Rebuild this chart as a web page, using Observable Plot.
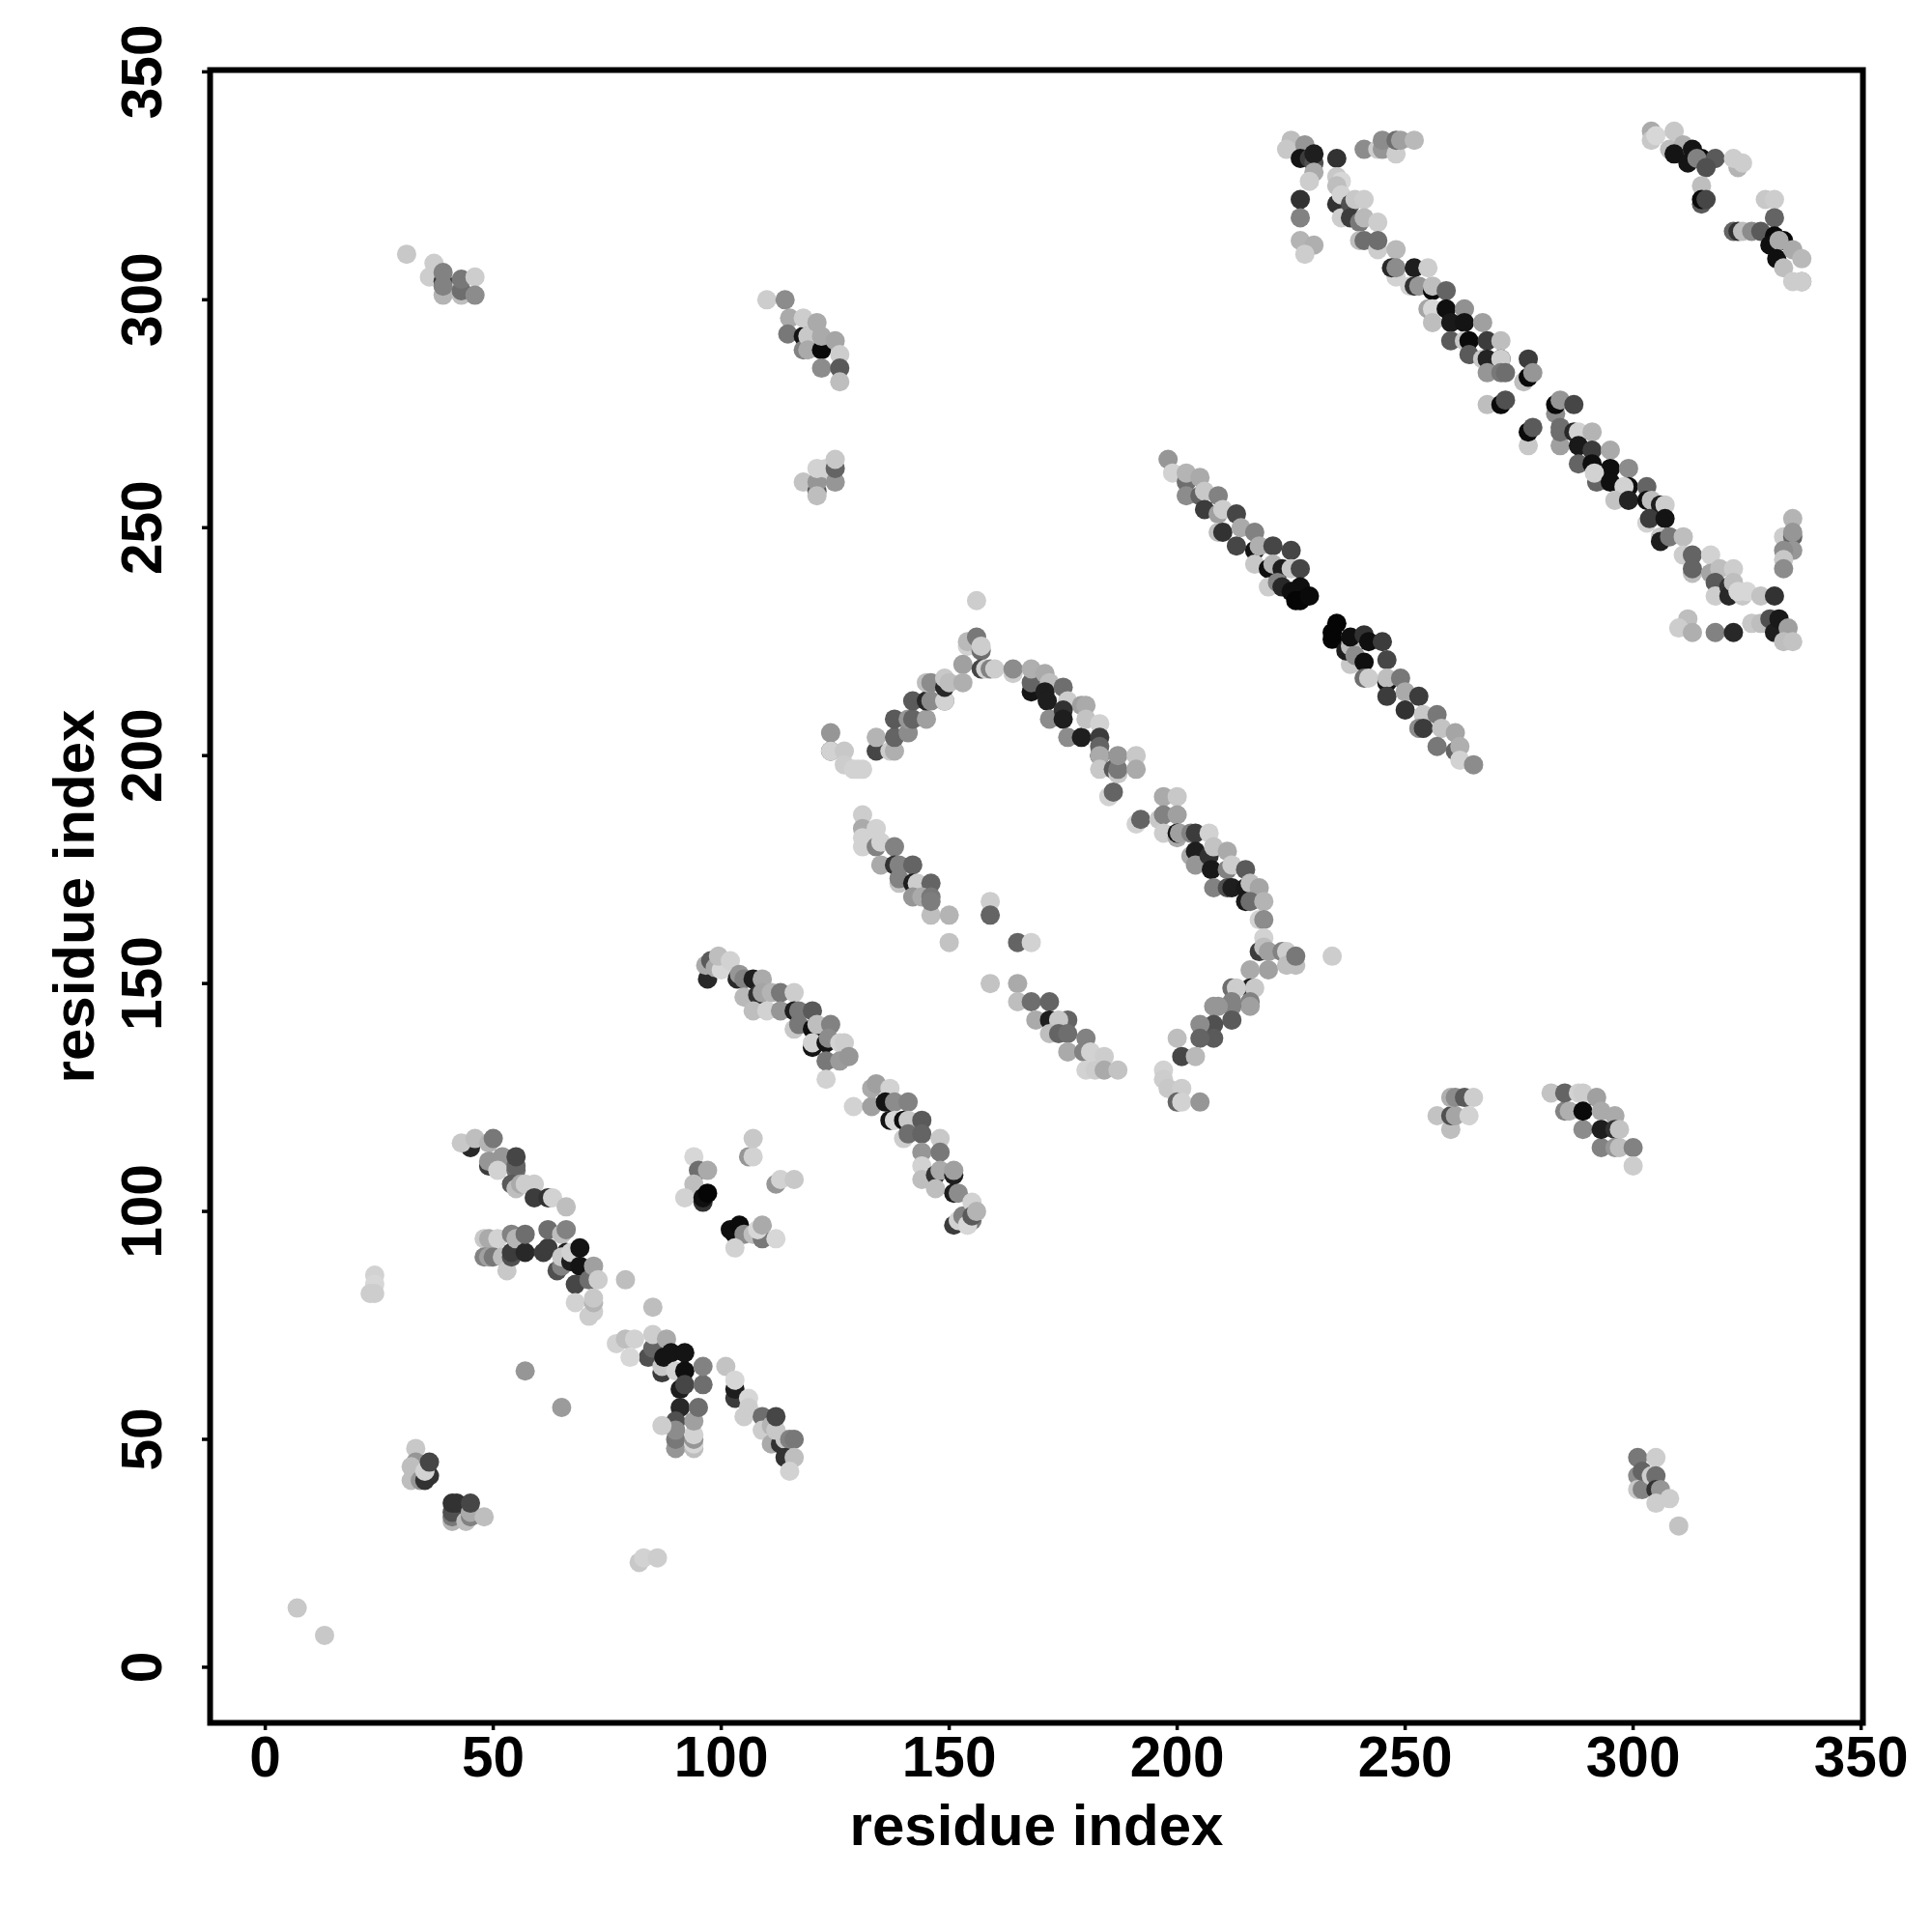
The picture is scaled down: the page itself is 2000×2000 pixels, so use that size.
<!DOCTYPE html>
<html><head><meta charset="utf-8">
<script src="https://cdn.jsdelivr.net/npm/d3@7"></script>
<script src="https://cdn.jsdelivr.net/npm/@observablehq/plot@0.6"></script>
<style>html,body{margin:0;padding:0;background:#fff}</style></head>
<body><div id="chart"></div>
<script>
// [residue x, residue y, grey level]
const lowerLeft = [[7,13,200],[13,7,200],[24,86,210],[24,84,215],[23,82,205],[24,82,205],[57,65,150],[65,57,155],[82,23,200],[83,24,210],[86,24,205],
[33,48,200],[33,45,150],[32,44,190],[32,41,190],[34,41,150],[35,41,50],[36,42,50],[35,43,210],[36,45,70],
[41,32,180],[41,33,120],[41,34,80],[41,36,50],[42,36,50],[44,32,190],[45,33,130],[45,34,170],[45,36,70],[48,33,190]];
const betaA = [[45,114,40],[43,115,200],[46,116,190],[49,115,180],[50,116,120],[49,110,60],[49,111,150],[52,112,150],[51,109,210],[55,109,110],[55,110,100],[55,112,70],
[54,106,90],[55,105,190],[56,106,170],[57,106,205],[59,106,205],[59,103,60],[62,103,50],[63,103,210],[66,101,190],
[48,94,200],[49,94,170],[51,94,210],[48,90,130],[49,90,160],[50,90,120],[52,90,190],[53,87,200],[54,90,80],[54,91,60],[54,95,130],[55,94,180],[57,91,40],[57,95,110],
[61,91,60],[62,92,60],[62,96,110],[65,95,190],[66,96,130],[64,87,80],[65,88,130],[66,91,30],[65,90,200],[67,89,30],[67,91,210],[69,88,20],[69,92,20],
[68,84,70],[71,85,110],[72,88,160],[73,85,205],[79,85,190],[85,79,190],[68,80,210],[71,77,205],[72,78,205],[72,80,180],[72,81,200]];
const betaB = [[77,71,210],[79,72,190],[81,72,210],[84,68,80],[85,70,100],[85,73,205],[88,72,170],[80,68,215],[87,64.6,60],[87,66,200],[87.4,68,20],[89,69,20],[90,65,210],[92,69,20],[92,65,15],
[91,61,30],[92,62,70],[96,62,110],[96,66,130],[101,66,195],[103,59,60],[103,61,30],[103,63,215],
[91,57,40],[90,54,80],[90,48,150],[90,50,120],[90,52,140],[87,53,205],[94,48,190],[94,49,215],[94,50,150],[94,51,210],[94,54,160],[95,57,110],
[106,59,215],[106,57,205],[105,55,205],[109,55,110],[109,52,205],[111,53,180],[111,49,170],[113,49,50],[112,52,200],[112,55,70],[114,50,200],[115,50,130],[116,50,120],[114,46,50],[116,46,190],[115,43,210]];
const cluster100 = [[94,112,215],[95,109,110],[97,109,170],[94,106,190],[92,103,210],[96,102,50],[96,103,15],[97,104,5],
[106,112,150],[107,112,210],[107,116,200],[112,106,150],[113,107,210],[116,107,200],
[102,96,15],[103,95,15],[104,97,10],[105,95,140],[103,92,210],[107,95,190],[109,94,120],[108,96,215],[109,97,170],[112,94,215]];
const strandC = [[97,151,40],[96.6,154,170],[97.7,155,90],[98.7,153.5,170],[100,153,215],[99.4,156,190],[102,155,210],
[103.5,151,40],[104,152,150],[105,151,130],[107,151,30],[109,151,170],[105,147,185],[108,147.5,50],[109,148,165],[111,148,180],[113,148,120],[116,148,205],
[107,144,190],[110,144,210],[113,144,150],[116,144,30],[117,144,120],[120,144,90],[116,140,200],[117,141,120],[120,140,15],[120,136,20],[120,137,210],[121,141,190],[124,141,130],
[123,137,20],[123.5,138,140],[126,137,210],[127,137,205],[123,133,120],[126,133,155],[128,134,150],[123,129,210],
[129,123,210],[133,123,160],[133,127,170],[134,128,160],[137,127,210],[136,124,20],[138,124,140],[141,124,130],[137,120,20],[138,120,215],[140,120,15],[141,120,200],[144,120,90],
[140,116,205],[141,117,110],[144,117,100],[148,116,200],[144,113,150],[148,113,120],[144,110,210],[144,107,190],[147,108,50],[148,109,170],[147,105,190],[151,108,30],[151,109,160],[151,104,30],[152,104,140],
[151,97,60],[152,98,210],[153,99,130],[154,97,190],[155,98,120],[154,97,215],[155,102,210],[155,99,90],[156,100,180]];
const arcD = [[156,234,205],[154,224,210],[154,225,185],[156,226,120],[157,223,110],[157,224,205],[153,220,160],[157,219,70],[158,219,210],[159,219,130],[160,219,205],
[124,205,150],[124,201,80],[124,201,210],[127,201,200],[127,198,205],[129,197,210],[130,197,210],[131,197,210],
[134,201,70],[134,204,180],[137,201,205],[138,201,175],[138,204,100],[138,208,90],[141,205,140],[141,208,150],[142,208,100],[145,208,160],[142,212,90],[145,212,40],[146,212,140],[149,212,110],[149,212,210],
[145,216,190],[146,216,140],[149,215,40],[149,217,200],[150,216,190],[153,216,175],
[164,218,205],[164,219,140],[168,214,20],[168,216,100],[168,219,175],[171,218,170],[172,216,190],[171,214,30],[171.5,212,30],[175,215,110],[176,212,205],[179,211,160],[180,211,170],
[172,208,140],[175,210,50],[175,208,30],[176,204,140],[179,204,30],[180,208,195],[183,207,210],[183,204,60],[183,200,25],[183,202,100],[183,200,170],[183,197,200],
[186,197,90],[187,196,200],[187,197,120],[187,200,150],[191,200,200],[191,197,170],[185,191,210],[186,192,100]];
const arcE = [[191,185,210],[192,186,100],[197,191,170],[200,191,200],[196,186,200],[197,187,130],[200,187,160],[197,183,205],[200,182,170],[200,183,20],[200.5,183,160],
[203,183,130],[204,183,60],[207,183,210],[203,178,170],[204,179,30],[204,176,150],[207,178,50],[208,180,195],[207.5,175,25],[211,179,170],[211,175,130],[212,176,205],[215,175,90],
[208,171,130],[211,171,80],[212,171,30],[215,171,25],[216,172,190],[218,171,165],[215,168,25],[216,168,110],[219,168,180],[218,164,210],[219,164,140],
[219,160,210],[218,157,60],[219,158,190],[220,157,160],[223,157,130],[224,157,205],[226,154,190],[224,154,190],[226,156,120],[234,156,205],[220,153,160],[216,153,170],
[216,149,30],[217,149,200],[216,146,130],[212,149,110],[213,149,205],[212,146,130],[216,145,160],[212,145,130],[212,142,90],[209,145,150],[208,145,150],[208,141,80],[205,141,140],[208,138,90],[205,138,100],
[200,138,190],[201,134,70],[204,134,185],[197,131,210],[197,129,205],[198,127,200],[201,127,205],[200,124,100],[201,124,210],[205,124,150]];
const strandF = [[131,187,205],[131,184,170],[131,182,210],[131,180,210],[134,184,210],[134,180,130],[135,181,210],[138,180,130],[135,176,170],[138,176,50],[139,176,130],[142,176,100],[139,172,195],[139,173,130],
[142,172,30],[143,172,205],[146,172,100],[142,169,150],[144,169,170],[146,165,190],[146,169,120],[146,168,125],[150,165,180],[150,159,195],
[159,168,205],[159,165,100],[165,159,100],[168,159,210],[159,150,195],[165,150,170],[165,146,190],[168,146,110],[172,146,100],[169,142,170],[176,142,100],[172,142,30],[174,142,200],
[172,139,190],[174,139,100],[176,139,110],[176,135,170],[180,138,130],[179.5,135,130],[181,135,210],[180,131,210],[182,131,205],[184,134,205],[184,131,170],[187,131,195]];
const helixG = [[198,265,150],[199,262,210],[202,260,110],[202,262,180],[205,261,170],[202,257,140],[205,257,100],[206,258,200],[209,257,130],[206,254,60],[209,253,160],[210,254,205],[213,253,70],
[209,249,190],[210,249,50],[214,250,170],[217,249,130],[213,246,70],[217,245,20],[218,246,175],[217,242,200],[221,246,70],[225,245,70],[220,241,15],[221,242,180],[223,241,30],[225,241,200],[227,241,70],
[220,237,205],[222,238,130],[223,237,40],[227,237,15],[225,236,15],[226,234,5],[227,234,5],[229,235,10],
[234,225.5,5],[234,227,5],[235,229,5],[238,220,200],[237,223,30],[238,224,190],[238,226,15],[239,222,140],[241,226.5,50],[241,220.5,15],[242,225,15],[245,225,60],[246,221,70],
[241,217,110],[242,217,205],[246,216,20],[246,217,190],[249,217,120],[246,213,60],[250,214,170],[253,213,60],[250,210,50],[254,209,200],[257,209,120],[253,206,140],[254,206,60],[258,206,195],[261,205,165],[257,202,120],[261,201,100],[262,202,175],[262,199,210],[265,198,140]];
const helixH = [[225,335,190],[224,333,200],[228,334,150],[227,331,20],[229,331,60],[230,330,80],[230,332,30],[230,328,170],[229,326,205],[235,331,50],[227,322,50],[227,318,130],[227,313,180],[230,312,175],[228,310,205],
[241,333,140],[244,333,205],[245,333,150],[245,335,140],[248,332,205],[248,335,110],[249,335,160],[252,335,185],
[235,327,200],[236,326,215],[235,325,190],[235,321,50],[236,323,210],[236,318,205],[238,321,80],[239,322,200],[241,322,205],[238,318,60],[240,317,120],[241,318,185],[244,317,205],[240,313,190],[241,313,110],[244,311,205],[244,313,110],
[248,311,185],[248,305,210],[247,307,40],[248,307,140],[252,307,30],[255,307,205],[251,303,210],[252,303,50],[253,303,150],[256,302,10],[256,303,190],[259,302,100],[255,298,165],[256,298,215],[259,298,15],[263,298,145],
[256,295,190],[260,295,25],[263,295,20],[267,295,160],[260,291,90],[263,291,200],[264,291,10],[268,291,60],[271,291,190],[264,288,90],[267,287,200],[268,287,35],[271,287,20],[271,287,205],
[268,284,150],[271,284,120],[272,284,110],[277,287,60],[276,282,190],[277,283,10],[278,284,150],[268,277,190],[271,277,10],[272,278,80],[277,268,200],[277,271,10],[278,272,90],
[283,275,140],[283,277,10],[284,278,150],[287,277,70]];
const helixI = [[284,268,160],[284,271,110],[284,272,110],[287,271,40],[288,271,210],[291,271,180],[288,268,25],[291,267,60],[295,267,170],[288,264,100],[291,264,15],[295,263,15],[299,263,140],[292,260,100],[291.5,262,210],[295,260,15],[299,259,15],[298,259,210],[303,259,100],
[296,256,195],[299,256,35],[303,256,15],[304,256,190],[306,255,30],[307,255,205],[303,251,210],[303.6,252,60],[307,252,20],[306,248,200],[306,247,30],[308,248,120],[311,248,190],
[311,244,205],[313,244,100],[313,240,190],[313,241,100],[317,244,210],[317,240,165],[319,241,190],[318,238,90],[318,235,205],[321,237,50],[321,235,40],[322,241,205],[322,238,190],[324,235,200],[323,236,215],[325,236,215],[328,235,195],[331,235,50],
[335,252,180],[333,248,205],[335,248,100],[335,249,150],[335,245,150],[333,245,140],[333,243,200],[333,241,140],
[312,230,190],[310,228,205],[313,227,175],[318,227,130],[322,227,40],[326,229,200],[328,229,190],[330,230,80],[331,227,30],[332,230,25],[334,228,160],[333,225,190],[335,225,195]];
const cornerJ = [[304,337,170],[304,335,200],[305,336,215],[309,337,200],[308,333,190],[311,334,175],[309,332,20],[313,333,20],[312,330,20],[315,331,10],[314,331,130],[318,331,90],[316,329,80],[315,325,190],[315,321,90],[315,322,10],[316,322,70],[323,329,180],[322,331,205],[324,330,205],
[329,322,200],[331,322,205],[331,318,100],[322,315,100],[323,315,50],[324,315,190],[326,315,140],[328,315,90],[331,314,10],[330,312,15],[333,313,10],[332,313,170],[331.5,309,15],[333,307,190],[335,311,170],[337,309,185],[337,304,140],[335,304,205],[337,304,205]];
const offDiagonal = [[31,310,200],[37,308,205],[36,305,205],[39,304,60],[39,301,180],[39,306,130],[39,303,130],[43,301,190],[43,302,110],[43,304.5,120],[46,305,205],[46,301,140],
[110,300,205],[114,300,140],[115,296,170],[114.6,292.5,120],[118,292,20],[118,296,205],[118,289,130],[119,292,200],[119,289,170],[121,295,170],[122,289,10],[122,292,170],[125,291,165],[126,288,205],[122,285,140],[126,285,90],[126,282,190],
[118,260,195],[121,258,90],[121,260,150],[121,257,190],[121,263,210],[123,263,210],[125,260,150],[125,263,100],[125,265,200],
[257,121,195],[260,118,190],[260,121,80],[261,121,165],[260,125,175],[261,125,140],[264,121,210],[263,125,90],[265,125,205],
[282,126,195],[285,122,130],[285,126,100],[286,122,175],[288,126,210],[289,126,205],[292,125,160],[289,118,140],[289,122,10],[293,122,170],[293,114,130],[293,118,30],[296,121,170],[296,118,50],[297,118,195],[296,114,150],[297,114,190],[300,114,130],[300,110,205],
[301,46,120],[301,42,140],[301,39,200],[302,39,130],[302,43,100],[305,46,205],[304,42,205],[305,42,110],[305,39,50],[306,39,150],[305,36,205],[308,37,205],[310,31,195]];
const axisTicks = [0,50,100,150,200,250,300,350];
const axisLabel = "residue index";

const rows = [lowerLeft,betaA,betaB,cluster100,strandC,arcD,arcE,strandF,helixG,helixH,helixI,cornerJ,offDiagonal]
  .flat().map(([x,y,g])=>({x,y,g}));

const chart = Plot.plot({
  width:2000,height:2000,
  marginLeft:217,marginRight:72,marginTop:72,marginBottom:217,
  style:"font-family:'Liberation Sans',Arial,sans-serif;font-weight:bold;background:#fff;color:#000;",
  x:{domain:[-12.1,350.4]},
  y:{domain:[-12.2,350.4]},
  color:{type:"linear",domain:[0,255],range:["#000","#fff"]},
  marks:[
    Plot.dot(rows,{x:"x",y:"y",fill:"g",r:10}),
    Plot.frame({stroke:"#000",strokeWidth:6}),
    Plot.axisX({ticks:axisTicks,tickSize:8,strokeWidth:3.5,tickPadding:6,fontSize:58.5,label:null}),
    Plot.axisY({ticks:axisTicks,tickSize:8,strokeWidth:3.5,tickPadding:43,tickRotate:-90,fontSize:58.5,label:null}),
    Plot.axisX({ticks:[],tickSize:0,fontSize:60,label:axisLabel,labelAnchor:"center",labelArrow:"none",labelOffset:126}),
    Plot.axisY({ticks:[],tickSize:0,fontSize:60,label:axisLabel,labelAnchor:"center",labelArrow:"none",labelOffset:163})
  ]
});
chart.querySelectorAll("text").forEach(t=>t.style.setProperty("-webkit-text-stroke","0.7px #000"));
document.getElementById("chart").appendChild(chart);
</script></body></html>
